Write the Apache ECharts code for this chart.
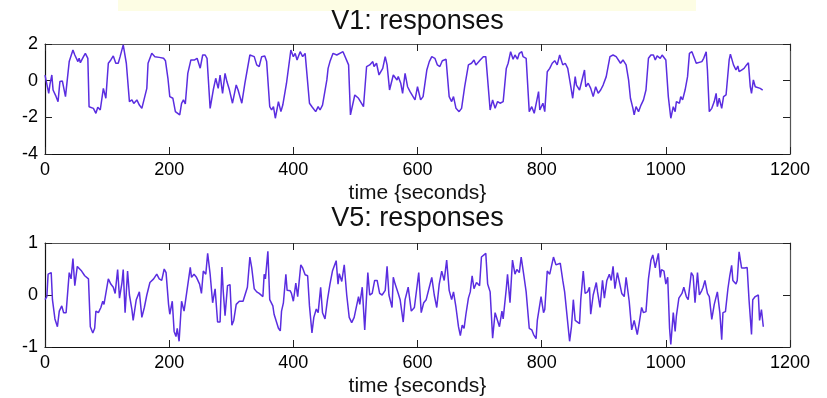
<!DOCTYPE html>
<html>
<head>
<meta charset="utf-8">
<script src="https://cdn.jsdelivr.net/npm/echarts@6/dist/echarts.min.js"></script>
<style>
  html, body { margin: 0; padding: 0; background: #fff; }
  #chart { width: 827px; height: 398px; }
</style>
</head>
<body>
<div id="chart"></div>
<script>
// V1 response trace: sample times (s) and values
const v1Time = [0,3,6,8,11,13,17,21,24,28,33,39,42,45,48,53,55,57,62,65,69,71,78,82,85,89,91,94,98,102,106,110,114,118,121,126,131,136,140,143,148,152,156,164,166,172,177,184,191,194,198,201,206,210,217,220,223,226,230,235,238,241,245,250,254,258,261,266,271,275,279,282,286,290,293,297,302,308,311,317,320,322,330,333,337,341,345,349,354,357,362,365,368,371,376,380,383,389,396,400,403,406,411,415,419,426,430,433,436,440,443,447,454,456,459,464,470,480,489,492,499,505,513,518,523,528,530,534,538,544,548,551,555,558,561,567,569,573,576,580,584,588,591,596,600,605,609,615,619,623,628,632,636,640,646,651,655,658,662,667,671,676,682,687,691,694,701,706,710,717,721,725,729,733,738,743,746,750,754,757,761,764,768,770,775,780,784,788,791,795,797,802,805,809,813,817,821,825,829,834,838,842,846,850,854,856,861,864,869,871,875,879,883,887,891,895,899,904,910,915,920,922,927,931,936,940,943,947,949,952,956,960,964,968,972,976,980,983,986,991,994,997,1000,1004,1008,1012,1015,1017,1022,1024,1027,1031,1035,1038,1042,1045,1049,1052,1058,1061,1065,1067,1070,1074,1078,1081,1083,1086,1090,1093,1097,1102,1104,1109,1113,1116,1118,1122,1126,1130,1133,1136,1138,1141,1144,1147,1152,1156];
const v1Value = [0.3,0.25,-0.69,-0.2,0.31,-0.51,-0.8,-1.15,-0.05,-0.02,-0.87,1.04,1.04,1.67,1.4,1.04,1.22,0.98,1.31,1.49,1.22,-1.42,-1.51,-1.78,-1.45,-1.6,-1.69,-0.42,-0.96,0.95,1.13,1.35,0.95,0.95,1.31,1.95,0.95,-1.14,-1.05,-1.24,-1.05,-1.33,-1.51,-0.42,0.95,1.49,1.31,1.27,1.22,1.09,0.13,-0.87,-0.96,-1.69,-1.87,-1.24,-1.05,-1.27,0.4,1.13,1.22,1.13,1.22,0.68,1.4,1.4,1.22,-1.51,-0.51,0.13,-0.42,0.31,-0.69,0.4,-0.05,-0.5,-1.23,-0.23,-0.51,-1.23,-1.14,-0.14,1.4,1.49,1.31,0.86,0.77,1.31,1.35,1.04,-1.42,-1.6,-1.42,-2.05,-1.14,-1.69,-1.33,-0.14,1.67,1.31,1.49,1.13,1.58,1.31,1.49,-1.23,-1.42,-1.51,-1.69,-1.42,-1.6,-1.33,0.04,0.67,1.04,1.49,1.4,1.58,0.86,-1.87,-0.78,-0.96,-1.42,0.77,0.86,1.04,0.77,0.95,0.31,0.67,1.31,0.86,-0.51,-0.6,0.31,0.04,0.22,-0.14,-0.69,0.4,-0.33,-0.6,-0.51,-1.05,-0.33,-1.05,-0.87,0.58,1.04,1.31,1.22,0.86,0.77,1.09,1.17,-0.87,-1.14,-0.87,-1.51,-1.69,-1.51,-0.33,0.86,0.95,1.13,0.86,1.13,1.31,1.31,-1.6,-1.05,-1.51,-1.14,-1.23,-1.14,0.67,0.95,1.58,1.17,1.4,1.17,1.49,1.58,1.31,1.22,-1.69,-1.42,-1.78,-1.82,-0.6,-1.6,-1.23,-1.69,0.49,0.67,0.95,1.09,0.86,1.4,0.86,0.95,0.67,-0.14,-0.96,0.22,-0.24,-0.51,-0.6,0.58,-0.33,-0.14,-0.42,-0.87,-0.33,-0.69,-0.51,-0.24,0.22,1.31,1.4,1.31,1.4,0.95,1.13,0.86,0.04,-0.96,-1.51,-1.87,-1.42,-1.69,-1.33,-1.05,-0.51,1.22,1.4,1.4,1.13,1.35,1.22,1.4,1.4,1.13,-0.87,-2.05,-1.42,-1.69,-1.14,-1.23,-0.87,-1.05,-0.51,0.22,1.49,1.58,1.49,0.95,0.91,1.04,1.22,1.58,0.58,-1.69,-1.51,-1.14,-0.69,-1.42,-0.96,-1.51,-0.87,-0.78,1.13,1.45,0.86,0.58,0.8,0.49,0.58,0.67,0.86,0.98,-0.33,-0.69,0.04,-0.33,-0.42,-0.42,-0.51];

// V5 response trace: sample times (s) and values
const v5Time = [0,3,5,10,12,16,20,23,27,30,34,39,42,45,48,52,55,59,64,70,73,77,80,82,86,90,93,95,98,102,106,110,113,117,120,124,126,129,133,136,140,142,147,152,156,160,164,169,175,177,180,184,188,192,195,199,201,205,208,211,213,216,220,224,227,234,236,240,244,249,252,255,259,262,266,270,274,278,282,285,287,290,294,298,301,304,308,313,316,319,322,326,330,333,337,341,345,348,351,353,355,359,362,367,369,372,376,379,381,384,388,390,395,397,400,404,407,412,415,419,423,426,430,433,437,440,444,447,451,455,459,463,469,472,474,478,482,486,490,494,498,505,507,511,515,520,523,527,531,535,539,543,548,551,554,559,561,564,569,572,577,580,585,590,595,602,606,610,614,619,623,627,631,635,639,643,647,651,655,658,662,666,669,672,675,678,682,685,688,691,695,700,703,706,710,713,717,721,725,728,732,736,738,743,745,749,753,757,760,764,767,771,775,780,784,787,791,793,796,799,803,805,809,813,819,823,826,830,834,837,840,845,848,851,854,857,861,863,867,870,874,877,879,883,888,890,894,898,901,905,909,912,915,918,922,925,929,933,936,939,941,945,949,954,957,961,964,968,972,976,979,983,985,988,991,993,997,1000,1003,1006,1008,1012,1015,1017,1021,1026,1029,1033,1036,1041,1044,1047,1051,1054,1058,1060,1063,1067,1070,1074,1078,1083,1087,1090,1092,1096,1100,1103,1106,1108,1113,1115,1118,1122,1124,1127,1131,1134,1138,1140,1144,1149,1151,1154,1157];
const v5Value = [-0.09,-0.03,0.4,0.43,-0.09,-0.46,-0.61,-0.31,-0.21,-0.34,-0.34,0.43,0.31,0.7,0.18,0.55,0.52,0.46,0.37,0.31,-0.61,-0.73,-0.64,-0.31,-0.34,-0.24,-0.12,-0.18,-0.15,0.31,0.21,0.15,0.03,0.49,-0.06,0.24,0.49,-0.34,0.46,0,-0.28,-0.49,-0.09,0.06,-0.43,-0.24,0,0.24,0.31,0.28,0.4,0.31,0.28,0.5,0.43,-0.18,-0.37,-0.12,-0.7,-0.8,-0.64,-0.89,-0.12,-0.31,-0.34,0.53,0.34,0.4,0.34,0.21,0.03,0.46,0.4,0.8,0.4,-0.15,0.12,-0.52,-0.52,0.54,0.09,-0.4,0.18,0.2,-0.58,-0.49,-0.18,-0.12,-0.15,-0.12,-0.12,0.15,0.73,0.52,0.12,0.06,0.03,0.04,-0.03,0.4,0.31,0.84,-0.09,-0.21,-0.37,-0.34,-0.64,-0.69,-0.31,-0.15,0.4,0.09,0.08,0.03,-0.12,0.23,-0.03,0.58,0.52,0.39,0.37,-0.21,-0.73,-0.43,-0.27,-0.34,0.15,-0.34,-0.46,-0.09,0.21,0.46,0.66,0.21,0.41,0.26,0.58,0,-0.43,-0.53,-0.43,-0.03,-0.18,0.15,-0.67,0.43,0,0.03,0.28,0.28,0.03,0,0.09,0.55,0,-0.24,0.34,0.21,0.03,-0.09,-0.52,-0.09,0.15,-0.31,-0.24,0.43,-0.34,-0.15,-0.09,0.15,0.34,0,-0.24,0.21,0.46,0.28,0.67,0.09,-0.09,0.06,-0.24,-0.61,-0.78,-0.58,-0.64,-0.37,-0.06,0.06,0.37,0.12,0.24,0.18,0.73,0.7,0.8,0.21,0.06,-0.83,-0.34,-0.31,-0.61,-0.31,-0.46,0.12,0.4,-0.15,0.67,0.4,0.49,0.43,0.73,0.4,0.06,-0.64,-0.67,-0.76,-0.84,-0.49,-0.47,-0.03,-0.34,-0.28,0.46,0.4,0.73,0.58,0.55,0.61,0.28,0.06,0.09,-0.89,-0.61,-0.09,-0.49,-0.49,-0.55,-0.09,0.46,0.03,0.06,0.15,-0.37,0,0.24,0.06,-0.24,0.28,-0.06,0.28,0.4,0.28,0.55,0.12,0.43,0.46,0.03,-0.03,0.34,0.34,-0.12,-0.67,-0.49,-0.76,-0.55,-0.24,-0.34,-0.32,0.31,0.67,0.77,0.52,0.64,0.8,0.34,0.49,0.46,0.21,0.34,-0.64,-0.95,-0.34,-0.7,-0.4,-0.06,0.03,0.15,-0.03,-0.09,0.43,0.37,-0.15,0.43,0,0.09,0.15,0.28,0.03,-0.03,-0.47,-0.18,0.06,-0.34,-0.86,-0.34,-0.32,0.12,0.37,0.57,0.28,0.21,0.28,0.83,0.52,0.55,0.52,0.53,-0.09,-0.76,-0.09,-0.03,0,-0.49,-0.28,-0.61];

// Axis ranges and tick steps
const timeTicks = { min: 0, max: 1200, step: 200 };
const v1Ticks = { min: -4, max: 2, step: 2 };
const v5Ticks = { min: -1, max: 1, step: 1 };
const titles = ['V1: responses', 'V5: responses'];
const xLabel = 'time {seconds}';

const FONT = '"Liberation Sans", Arial, Helvetica, sans-serif';
const LINE = '#5a2de0';
const plain = v => String(v);

function pairs(ts, vs) { return ts.map((t, i) => [t, vs[i]]); }

function xAxes(gridIndex) {
  const base = {
    type: 'value', gridIndex, min: timeTicks.min, max: timeTicks.max, interval: timeTicks.step,
    splitLine: { show: false },
    axisTick: { inside: true, length: 7, lineStyle: { color: '#222', width: 1 } }
  };
  return [
    Object.assign({}, base, {
      position: 'bottom',
      axisLine: { onZero: false, lineStyle: { color: '#111', width: 1.2 } },
      axisLabel: { fontSize: 18, color: '#000', fontFamily: FONT, margin: 7, formatter: plain },
      name: xLabel, nameLocation: 'middle', nameGap: 29,
      nameTextStyle: { fontSize: 21, color: '#111', fontFamily: FONT }
    }),
    Object.assign({}, base, {
      position: 'top',
      axisLine: { onZero: false, lineStyle: { color: '#555', width: 1.2 } },
      axisLabel: { show: false }
    })
  ];
}

function yAxes(gridIndex, r) {
  const base = {
    type: 'value', gridIndex, min: r.min, max: r.max, interval: r.step,
    splitLine: { show: false },
    axisTick: { inside: true, length: 7, lineStyle: { color: '#222', width: 1 } }
  };
  return [
    Object.assign({}, base, {
      position: 'left',
      axisLine: { show: true, onZero: false, lineStyle: { color: '#111', width: 1.2 } },
      axisLabel: { fontSize: 18, color: '#000', fontFamily: FONT, margin: 7, formatter: plain }
    }),
    Object.assign({}, base, {
      position: 'right',
      axisLine: { show: true, onZero: false, lineStyle: { color: '#555', width: 1.2 } },
      axisLabel: { show: false }
    })
  ];
}

const chart = echarts.init(document.getElementById('chart'), null, { renderer: 'canvas' });
chart.setOption({
  animation: false,
  backgroundColor: '#fff',
  grid: [
    { left: 45, top: 44, width: 745, height: 110 },
    { left: 45, top: 243, width: 745, height: 109 }
  ],
  xAxis: [...xAxes(0), ...xAxes(1)],
  yAxis: [...yAxes(0, v1Ticks), ...yAxes(1, v5Ticks)],
  series: [
    {
      type: 'line', xAxisIndex: 0, yAxisIndex: 0, showSymbol: false,
      lineStyle: { color: LINE, width: 1.5 }, data: pairs(v1Time, v1Value)
    },
    {
      type: 'line', xAxisIndex: 2, yAxisIndex: 2, showSymbol: false,
      lineStyle: { color: LINE, width: 1.5 }, data: pairs(v5Time, v5Value)
    }
  ],
  graphic: [
    { type: 'rect', left: 118, top: 0, shape: { width: 578, height: 11 }, style: { fill: '#fdfde4' }, silent: true },
    { type: 'text', x: 417.5, y: 22, style: { text: titles[0], font: '27px ' + FONT, fill: '#111', align: 'center', verticalAlign: 'middle' } },
    { type: 'text', x: 417.5, y: 219, style: { text: titles[1], font: '27px ' + FONT, fill: '#111', align: 'center', verticalAlign: 'middle' } }
  ]
});
</script>
</body>
</html>
